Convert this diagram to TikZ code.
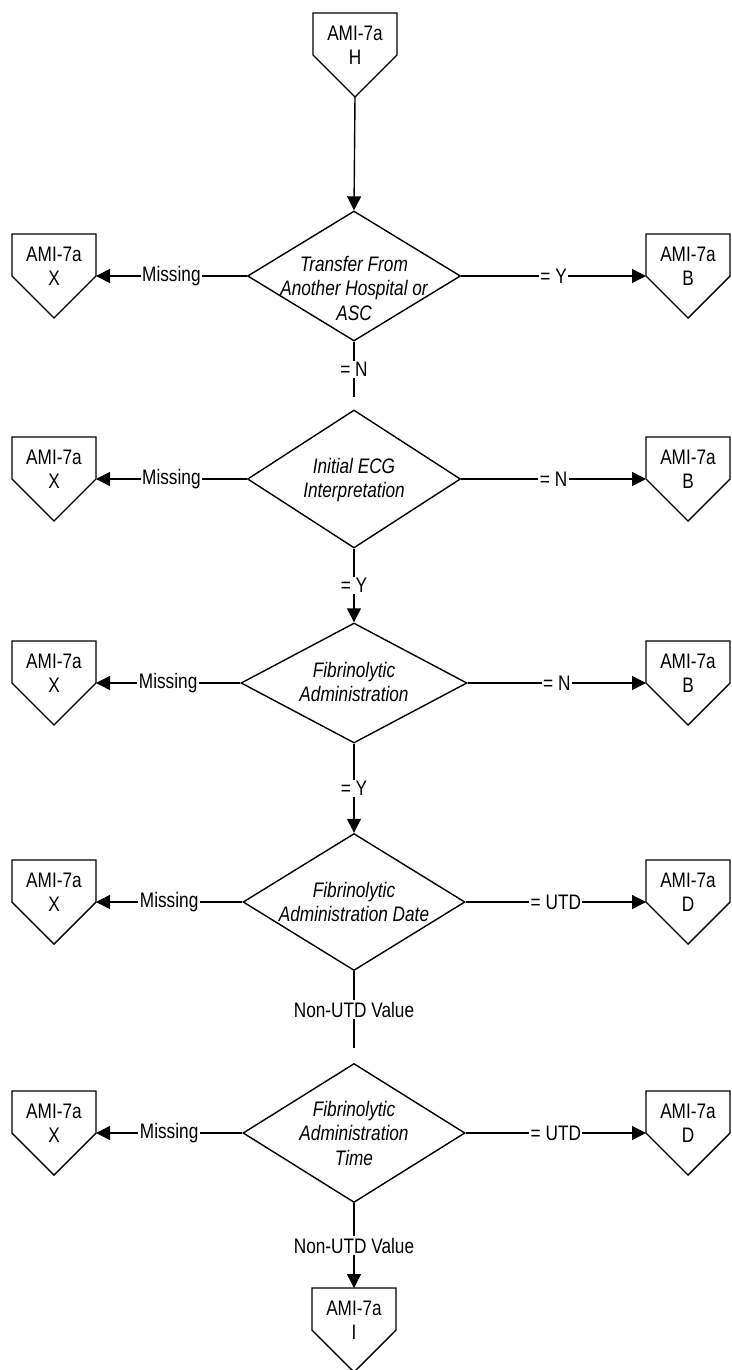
\documentclass[tikz,border=0pt]{standalone}
\usepackage{fontspec}
\setmainfont{Liberation Sans}[FakeStretch=0.82]
\usetikzlibrary{shapes.geometric,arrows.meta}

% off-page connector: name, centre x, top y, letter
\newcommand\amibox[4]{%
  \draw[pentline] ({#2-42},#3) -- ({#2+42},#3) -- ({#2+42},{#3+42})
        -- (#2,{#3+84}) -- ({#2-42},{#3+42}) -- cycle;
  \node[pentext] (#1) at (#2,{#3+32}) {AMI-7a\\#4};
  \coordinate (#1-n) at (#2,#3);
  \coordinate (#1-s) at (#2,{#3+84});
  \coordinate (#1-w) at ({#2-42},{#3+42});
  \coordinate (#1-e) at ({#2+42},{#3+42});
}

\tikzset{
  pentline/.style={line width=1.4pt, line join=miter},
  pentext/.style={align=center, inner sep=0pt, font=\fontsize{21}{24}\selectfont},
  dia/.style={diamond, draw, line width=1.4pt, inner sep=0pt, shape aspect=1},
  diatext/.style={align=center, inner sep=0pt, font=\fontsize{21}{24.5}\selectfont\itshape},
  flow/.style={line width=1.4pt},
  arr/.style={flow, -{Triangle[length=14pt,width=14pt]}},
  lab/.style={fill=white, inner sep=1.5pt, font=\fontsize{21}{24}\selectfont},
}

\begin{document}
\begin{tikzpicture}[x=1pt,y=-1pt]
\useasboundingbox (0,0) rectangle (731,1370);

% decisions
\node[dia, minimum width=213pt, minimum height=130pt] (d1) at (354,276) {};
\node[diatext] (d1t) at (354,288) {Transfer From\\Another Hospital or\\ASC};
\node[dia, minimum width=213pt, minimum height=138pt] (d2) at (354,479) {};
\node[diatext] (d2t) at (354,480) {Initial ECG\\Interpretation};
\node[dia, minimum width=226pt, minimum height=120pt] (d3) at (354,683) {};
\node[diatext] (d3t) at (354,682) {Fibrinolytic\\Administration};
\node[dia, minimum width=222pt, minimum height=137pt] (d4) at (354,902) {};
\node[diatext] (d4t) at (354,902) {Fibrinolytic\\Administration Date};
\node[dia, minimum width=222pt, minimum height=139pt] (d5) at (354,1133) {};
\node[diatext] (d5t) at (354,1133) {Fibrinolytic\\Administration\\Time};

% off-page connectors
\amibox{h}{355}{13}{H}
\amibox{x1}{54}{234}{X}
\amibox{b1}{688}{234}{B}
\amibox{x2}{54}{437}{X}
\amibox{b2}{688}{437}{B}
\amibox{x3}{54}{641}{X}
\amibox{b3}{688}{641}{B}
\amibox{x4}{54}{860}{X}
\amibox{d4r}{688}{860}{D}
\amibox{x5}{54}{1091}{X}
\amibox{d5r}{688}{1091}{D}
\amibox{i}{354}{1288}{I}

% connector ends that stop short of the next decision
\coordinate (n1end) at (354,397);
\coordinate (n4end) at (354,1048);

% main flow
\draw[arr] (h-s) -- (d1.north);
\draw[flow] (d1.south) -- node[lab]{= N} (n1end);
\draw[arr] (d2.south) -- node[lab]{= Y} (d3.north);
\draw[arr] (d3.south) -- node[lab]{= Y} (d4.north);
\draw[flow] (d4.south) -- node[lab]{Non-UTD Value} (n4end);
\draw[arr] (d5.south) -- node[lab]{Non-UTD Value} (i-n);

% side branches
\draw[arr] (d1.west) -- node[lab]{Missing} (x1-e);
\draw[arr] (d1.east) -- node[lab]{= Y} (b1-w);
\draw[arr] (d2.west) -- node[lab]{Missing} (x2-e);
\draw[arr] (d2.east) -- node[lab]{= N} (b2-w);
\draw[arr] (d3.west) -- node[lab]{Missing} (x3-e);
\draw[arr] (d3.east) -- node[lab]{= N} (b3-w);
\draw[arr] (d4.west) -- node[lab]{Missing} (x4-e);
\draw[arr] (d4.east) -- node[lab]{= UTD} (d4r-w);
\draw[arr] (d5.west) -- node[lab]{Missing} (x5-e);
\draw[arr] (d5.east) -- node[lab]{= UTD} (d5r-w);
\end{tikzpicture}
\end{document}
